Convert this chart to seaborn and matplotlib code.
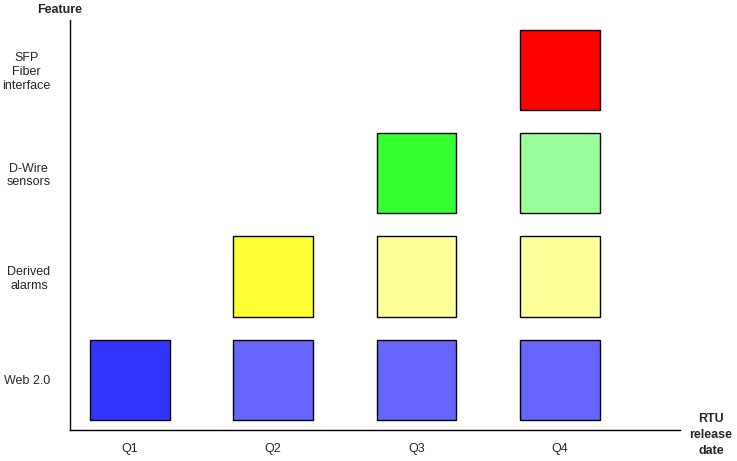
import matplotlib
matplotlib.use("Agg")
import matplotlib.pyplot as plt
import seaborn as sns

sns.set_style("white")
plt.rcParams['font.family'] = ['Liberation Sans', 'DejaVu Sans']

quarters = ["Q1", "Q2", "Q3", "Q4"]
features = ["Web 2.0", "Derived\nalarms", "D-Wire\nsensors", "SFP\nFiber\ninterface"]
# (quarter index, feature index, colour)
cells_q = [0, 1, 2, 3, 1, 2, 3, 2, 3, 3]
cells_f = [0, 0, 0, 0, 1, 1, 1, 2, 2, 3]
cells_c = ["#3333FF", "#6666FF", "#6666FF", "#6666FF",
           "#FFFF33", "#FFFF99", "#FFFF99",
           "#33FF33", "#99FF99",
           "#FF0000"]

fig = plt.figure(figsize=(7.37, 4.61), dpi=100)
ax = fig.add_axes([70/737, 1-430/461, 610/737, 410/461])

w, h = 0.558, 0.774
ax.bar(cells_q, [h]*len(cells_q), bottom=[f - h/2 for f in cells_f],
       width=w, color=cells_c, edgecolor="black", linewidth=1)

ax.set_xlim(-0.419, 3.84)
ax.set_ylim(-0.484, 3.48)
sns.despine(ax=ax)
for s in ["left", "bottom"]:
    ax.spines[s].set_color("black")
    ax.spines[s].set_linewidth(1)
ax.set_xticks(range(len(quarters)))
ax.set_xticklabels(quarters, fontsize=9)
ax.set_yticks(range(len(features)))
ax.set_yticklabels(features, fontsize=9, multialignment="center")
ax.tick_params(length=0, pad=9)
ax.tick_params(axis="y", pad=14)

fig.text(60/737, 1-10/461, "Feature", fontsize=9, fontweight="bold", ha="center", va="center")
fig.text(711/737, 1-435/461, "RTU\nrelease\ndate", fontsize=9, fontweight="bold",
         ha="center", va="center", multialignment="center", linespacing=1.4)

fig.savefig("out.png", dpi=100)
